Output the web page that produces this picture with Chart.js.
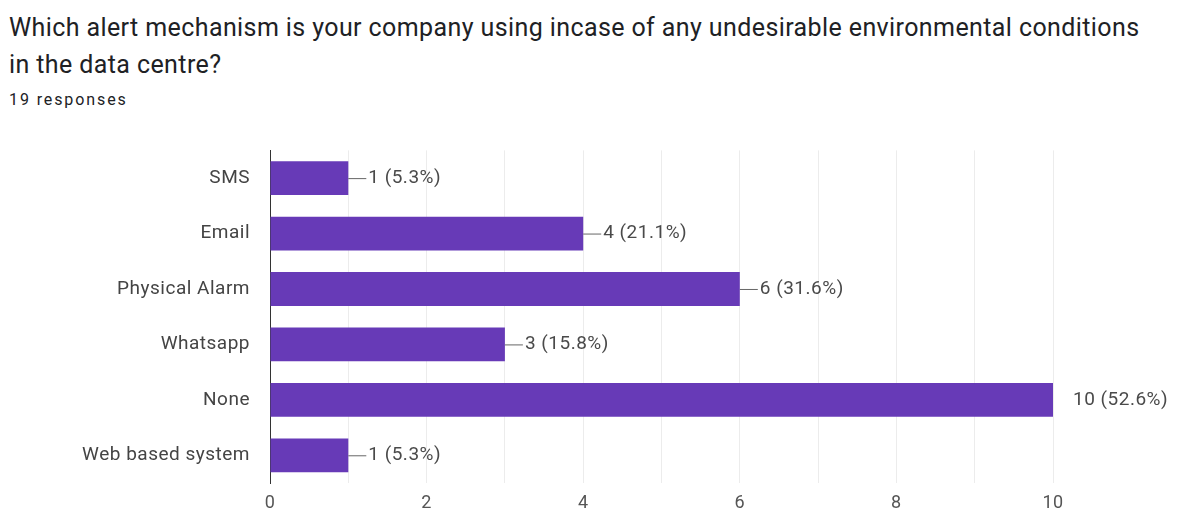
<!DOCTYPE html>
<html>
<head>
<meta charset="utf-8">
<script src="https://cdn.jsdelivr.net/npm/chart.js@4"></script>
<style>
  body { margin: 0; background: #fff; font-family: Roboto, Arial, sans-serif; }
  #title { position: absolute; left: 9px; top: 9px; width: 1142px; font-size: 25px; line-height: 37px; letter-spacing: 0.4px; color: #202124; }
  #sub { position: absolute; left: 9px; top: 90px; font-size: 16px; letter-spacing: 1.9px; color: #202124; }
  #wrap { position: absolute; left: 0; top: 119px; width: 1179px; height: 396px; }
</style>
</head>
<body>
<div id="title">Which alert mechanism is your company using incase of any undesirable environmental conditions in the data centre?</div>
<div id="sub">19 responses</div>
<div id="wrap"><canvas id="barChart"></canvas></div>
<script>
var categories = ["SMS", "Email", "Physical Alarm", "Whatsapp", "None", "Web based system"];
var counts = [1, 4, 6, 3, 10, 1];
var percents = ["5.3%", "21.1%", "31.6%", "15.8%", "52.6%", "5.3%"];
var xTicks = [0, 2, 4, 6, 8, 10];

// slightly wider text, like the screenshot
var spacing = {
  id: 'spacing',
  beforeDraw: function(chart) {
    chart.ctx.letterSpacing = '0.5px';
  }
};

// draws the "—1 (5.3%)" labels after the bars
var valueLabels = {
  id: 'valueLabels',
  afterDatasetsDraw: function(chart) {
    var ctx = chart.ctx;
    var meta = chart.getDatasetMeta(0);
    var maxVal = Math.max.apply(null, counts);
    ctx.save();
    ctx.font = '19px Roboto';
    ctx.textBaseline = 'middle';
    ctx.fillStyle = '#4a4a4a';
    meta.data.forEach(function(bar, i) {
      var txt = counts[i] + ' (' + percents[i] + ')';
      if (counts[i] == maxVal) {
        ctx.fillText(txt, bar.x + 20, bar.y);
      } else {
        ctx.strokeStyle = '#666';
        ctx.lineWidth = 1;
        ctx.beginPath();
        ctx.moveTo(bar.x, bar.y + 0.5);
        ctx.lineTo(bar.x + 18, bar.y + 0.5);
        ctx.stroke();
        ctx.fillText(txt, bar.x + 20, bar.y);
      }
    });
    ctx.restore();
  }
};

var barchart = new Chart("barChart", {
  type: "bar",
  data: {
    labels: categories,
    datasets: [{
      data: counts,
      backgroundColor: "#673ab7",
      barPercentage: 0.61,
      categoryPercentage: 1.0
    }]
  },
  options: {
    indexAxis: 'y',
    responsive: true,
    maintainAspectRatio: false,
    animation: false,
    layout: { padding: { top: 7, right: 126, bottom: 0, left: 0 } },
    plugins: {
      legend: { display: false },
      tooltip: { enabled: false }
    },
    scales: {
      x: {
        min: 0,
        max: 10,
        afterFit: function(scale) { scale.height = 32; },
        ticks: {
          stepSize: 1,
          color: '#555',
          font: { family: 'Roboto', size: 18 },
          padding: 10,
          callback: function(v) { return xTicks.indexOf(v) >= 0 ? v : ''; }
        },
        grid: { color: '#ececec', drawTicks: false },
        border: { display: false }
      },
      y: {
        afterFit: function(scale) { scale.width = 270; },
        ticks: {
          color: '#444',
          font: { family: 'Roboto', size: 19 },
          padding: 20
        },
        grid: { display: false, drawTicks: false },
        border: { display: true, color: '#333', width: 1 }
      }
    }
  },
  plugins: [spacing, valueLabels]
});
</script>
</body>
</html>
